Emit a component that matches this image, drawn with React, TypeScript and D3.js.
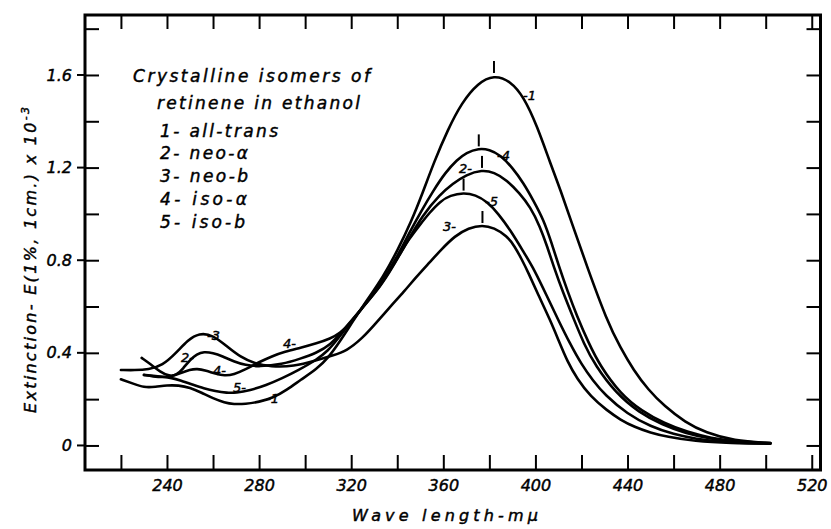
import React, { useRef, useEffect } from 'react';
import * as d3 from 'd3';

// Extinction E(1%, 1cm.) x 10^-3 against wave length in mμ
const allTrans: [number, number][] = [
    [220, 0.286], [225, 0.268], [230, 0.25], [235, 0.253], [240, 0.26], [245, 0.26], [250, 0.25],
    [255, 0.228], [260, 0.203], [265, 0.185], [269, 0.178], [274, 0.179], [280, 0.188], [286, 0.205],
    [292, 0.24], [298, 0.283], [305, 0.33], [310, 0.378], [315, 0.448], [320, 0.525], [326, 0.615],
    [334, 0.73], [340, 0.84], [346, 0.965], [351, 1.09], [356, 1.225], [362, 1.365], [368, 1.48],
    [375, 1.565], [382, 1.6], [389, 1.575], [395, 1.505], [400.7, 1.38], [406.5, 1.218], [411, 1.1],
    [416, 0.955], [422.5, 0.77], [431, 0.54], [437, 0.42], [442.6, 0.326], [449, 0.24], [456, 0.17],
    [465, 0.1], [474, 0.055], [486, 0.02], [502, 0.01]
];
const neoA: [number, number][] = [
    [229, 0.378], [233, 0.35], [237, 0.318], [241, 0.299], [244, 0.302], [247, 0.332], [250, 0.37],
    [253, 0.395], [256, 0.405], [260, 0.4], [264, 0.386], [269, 0.362], [274, 0.347], [280, 0.34],
    [290, 0.35], [298, 0.375], [305, 0.4], [311, 0.435], [316, 0.49], [324, 0.585], [333, 0.69],
    [338, 0.77], [344, 0.875], [351, 0.995], [358.7, 1.085], [364, 1.13], [370, 1.17], [376.8, 1.19],
    [382, 1.18], [387.6, 1.146], [393, 1.09], [397.8, 1.03], [402, 0.945], [405.1, 0.86], [408, 0.77],
    [412, 0.66], [416.7, 0.545], [421, 0.44], [426, 0.345], [435, 0.225], [445, 0.142], [455, 0.09],
    [465, 0.053], [476, 0.028], [488, 0.015], [502, 0.009]
];
const neoB: [number, number][] = [
    [220, 0.326], [226, 0.325], [232, 0.328], [238, 0.345], [244, 0.4], [249, 0.455], [254, 0.486],
    [260, 0.477], [266, 0.428], [272, 0.381], [278, 0.354], [285, 0.34], [295, 0.341], [305, 0.368],
    [312, 0.389], [318, 0.408], [325, 0.465], [330, 0.52], [337, 0.6], [343, 0.665], [348, 0.725],
    [354, 0.79], [359, 0.845], [365, 0.905], [371, 0.94], [377, 0.952], [382, 0.94], [387.6, 0.905],
    [391, 0.86], [394, 0.805], [397, 0.745], [401, 0.655], [406.5, 0.54], [410, 0.455], [414, 0.36],
    [418, 0.29], [424, 0.21], [431, 0.152], [437, 0.11], [443, 0.08], [450, 0.055], [457, 0.038],
    [469, 0.018], [485, 0.01], [502, 0.008]
];
const isoA: [number, number][] = [
    [230, 0.304], [234, 0.298], [238, 0.294], [242, 0.298], [246, 0.313], [250, 0.327], [253, 0.332],
    [257, 0.323], [261, 0.31], [265, 0.301], [269, 0.306], [274, 0.328], [280, 0.36], [286, 0.387],
    [291, 0.405], [298, 0.422], [305, 0.441], [311, 0.462], [315, 0.484], [320, 0.53], [324, 0.585],
    [333, 0.7], [340, 0.815], [345.6, 0.925], [350, 1.005], [355.8, 1.103], [361, 1.18], [365.9, 1.233],
    [370, 1.265], [375.4, 1.283], [380, 1.278], [384.8, 1.254], [390, 1.2], [394.9, 1.132], [399, 1.06],
    [403.6, 0.974], [407, 0.875], [410, 0.78], [414, 0.665], [418, 0.56], [423, 0.445], [428, 0.345],
    [437, 0.222], [446, 0.15], [456, 0.095], [466, 0.058], [476, 0.032], [488, 0.016], [502, 0.01]
];
const isoB: [number, number][] = [
    [230, 0.305], [234, 0.301], [238, 0.297], [242, 0.292], [246, 0.28], [251, 0.263], [256, 0.246],
    [261, 0.234], [266, 0.227], [270, 0.227], [276, 0.238], [283, 0.26], [290, 0.29], [297, 0.325],
    [305, 0.37], [310, 0.41], [314, 0.458], [318, 0.51], [324, 0.585], [333, 0.69], [341, 0.825],
    [345, 0.89], [350, 0.955], [354, 1.005], [358.7, 1.055], [363, 1.08], [368.8, 1.092], [374, 1.082],
    [379, 1.053], [384, 1.0], [389.1, 0.93], [394.9, 0.835], [399.5, 0.76], [405, 0.645], [410, 0.54],
    [415, 0.44], [420, 0.35], [425, 0.28], [430, 0.22], [440, 0.135], [450, 0.082], [460, 0.048],
    [470, 0.028], [480, 0.016], [490, 0.01], [502, 0.008]
];
const curves = [allTrans, neoA, neoB, isoA, isoB];

const xTicks = d3.range(220, 521, 20);
const xLabels = [240, 280, 320, 360, 400, 440, 480, 520];
const yTicks = [0, 0.2, 0.4, 0.6, 0.8, 1.0, 1.2, 1.4, 1.6, 1.8];
const yLabels = [0, 0.4, 0.8, 1.2, 1.6];

const legendTitle = ['Crystalline isomers of', 'retinene in ethanol'];
const legendItems = ['1- all-trans', '2- neo-α', '3- neo-b', '4- iso-α', '5- iso-b'];

// curve numbers written beside the curves (wave length, extinction)
const curveTags: [string, number, number][] = [
    ['-1', 394.6, 1.492], ['-4', 383.3, 1.233], ['2-', 366.8, 1.177], ['-5', 378.1, 1.036],
    ['3-', 359.9, 0.926], ['-3', 257.4, 0.456], ['2-', 246.1, 0.361], ['4-', 260, 0.304],
    ['5-', 268.7, 0.231], ['-1', 283, 0.184], ['4-', 290.4, 0.421]
];

const W = 831, H = 529;
const frame = { left: 85, top: 15, right: 820.5, bottom: 470 };
const font = '"DejaVu Sans", Verdana, sans-serif';

const App = () => {
    const svgRef = useRef<SVGSVGElement>(null);

    useEffect(() => {
        const svg = d3.select(svgRef.current);
        svg.selectAll('*').remove();

        const x = d3.scaleLinear().domain([204.4, 523.8]).range([frame.left, frame.right]);
        const y = d3.scaleLinear().domain([-0.106, 1.859]).range([frame.bottom, frame.top]);

        svg.append('rect').attr('width', W).attr('height', H).attr('fill', '#fff');

        // lettering on the original is heavy, so thicken the glyphs a little
        const ink = (sel: any, size: number) => sel
            .style('font-family', font)
            .style('font-style', 'italic')
            .style('font-size', `${size}px`)
            .attr('fill', '#000')
            .attr('stroke', '#000')
            .attr('stroke-width', 0.45);

        // Axes with inward ticks on all four sides
        const styleAxis = (g: d3.Selection<SVGGElement, unknown, null, undefined>) => {
            g.select('.domain').remove();
            g.selectAll('line').attr('stroke', '#000').attr('stroke-width', 2);
            ink(g.selectAll('text'), 16);
        };
        const xFmt = (d: d3.NumberValue) => (xLabels.includes(+d) ? String(d) : '');
        const yFmt = (d: d3.NumberValue) =>
            yLabels.some(v => Math.abs(v - +d) < 1e-6) ? (+d === 0 ? '0' : (+d).toFixed(1)) : '';

        svg.append('g')
            .attr('transform', `translate(0,${frame.bottom})`)
            .call(d3.axisBottom(x).tickValues(xTicks).tickSize(-15).tickPadding(10).tickFormat(xFmt))
            .call(styleAxis);
        svg.append('g')
            .attr('transform', `translate(0,${frame.top})`)
            .call(d3.axisTop(x).tickValues(xTicks).tickSize(-14).tickFormat(() => ''))
            .call(styleAxis);
        svg.append('g')
            .attr('transform', `translate(${frame.left},0)`)
            .call(d3.axisLeft(y).tickValues(yTicks).tickSize(-14).tickPadding(13).tickFormat(yFmt))
            .call(styleAxis);
        svg.append('g')
            .attr('transform', `translate(${frame.right},0)`)
            .call(d3.axisRight(y).tickValues(yTicks).tickSize(-14).tickFormat(() => ''))
            .call(styleAxis);

        // labelled y ticks poke out past the frame
        svg.append('g').selectAll('line')
            .data(yLabels)
            .enter().append('line')
            .attr('x1', frame.left - 8).attr('x2', frame.left)
            .attr('y1', d => y(d)).attr('y2', d => y(d))
            .attr('stroke', '#000').attr('stroke-width', 2);

        svg.append('rect')
            .attr('x', frame.left).attr('y', frame.top)
            .attr('width', frame.right - frame.left).attr('height', frame.bottom - frame.top)
            .attr('fill', 'none').attr('stroke', '#000').attr('stroke-width', 3);

        // Curves
        const line = d3.line<[number, number]>()
            .x(d => x(d[0]))
            .y(d => y(d[1]))
            .curve(d3.curveBasis);

        svg.append('g').selectAll('path')
            .data(curves)
            .enter().append('path')
            .attr('d', d => line(d))
            .attr('fill', 'none')
            .attr('stroke', '#000')
            .attr('stroke-width', 2.6)
            .attr('stroke-linejoin', 'round')
            .attr('stroke-linecap', 'round');

        // short bar over each maximum
        svg.append('g').selectAll('line')
            .data(curves.map(c => d3.greatest(c, d => d[1]) as [number, number]))
            .enter().append('line')
            .attr('x1', d => x(d[0])).attr('x2', d => x(d[0]))
            .attr('y1', d => y(d[1]) - 2).attr('y2', d => y(d[1]) - 14)
            .attr('stroke', '#000').attr('stroke-width', 2);

        ink(svg.append('g').selectAll('text')
            .data(curveTags)
            .enter().append('text')
            .attr('x', d => x(d[1])).attr('y', d => y(d[2]))
            .text(d => d[0]), 13);

        // Legend block
        const legend = ink(svg.append('g'), 17);
        legend.append('text').attr('x', 133).attr('y', 81.5)
            .attr('textLength', 237).attr('lengthAdjust', 'spacing').text(legendTitle[0]);
        legend.append('text').attr('x', 157).attr('y', 108.5)
            .attr('textLength', 203).attr('lengthAdjust', 'spacing').text(legendTitle[1]);
        const itemLengths = [118, 88, 88, 87, 85];
        legend.selectAll('.item')
            .data(legendItems)
            .enter().append('text')
            .attr('class', 'item')
            .attr('x', 160)
            .attr('y', (d: string, i: number) => 136.5 + i * 22.8)
            .attr('textLength', (d: string, i: number) => itemLengths[i])
            .attr('lengthAdjust', 'spacing')
            .text((d: string) => d);

        // Axis titles
        ink(svg.append('text')
            .attr('x', 352).attr('y', 521)
            .attr('textLength', 186).attr('lengthAdjust', 'spacing')
            .text('Wave length-mμ'), 16);

        const yTitle = ink(svg.append('text')
            .attr('transform', 'translate(36,413) rotate(-90)')
            .attr('textLength', 306).attr('lengthAdjust', 'spacing'), 16);
        yTitle.append('tspan').text('Extinction- E(1%, 1cm.) x 10');
        yTitle.append('tspan').attr('dy', -7).style('font-size', '11px').text('-3');
    }, []);

    return (
        <svg ref={svgRef} width={W} height={H}
            style={{ position: 'absolute', left: 0, top: 0, background: '#fff' }} />
    );
};

export default App;
